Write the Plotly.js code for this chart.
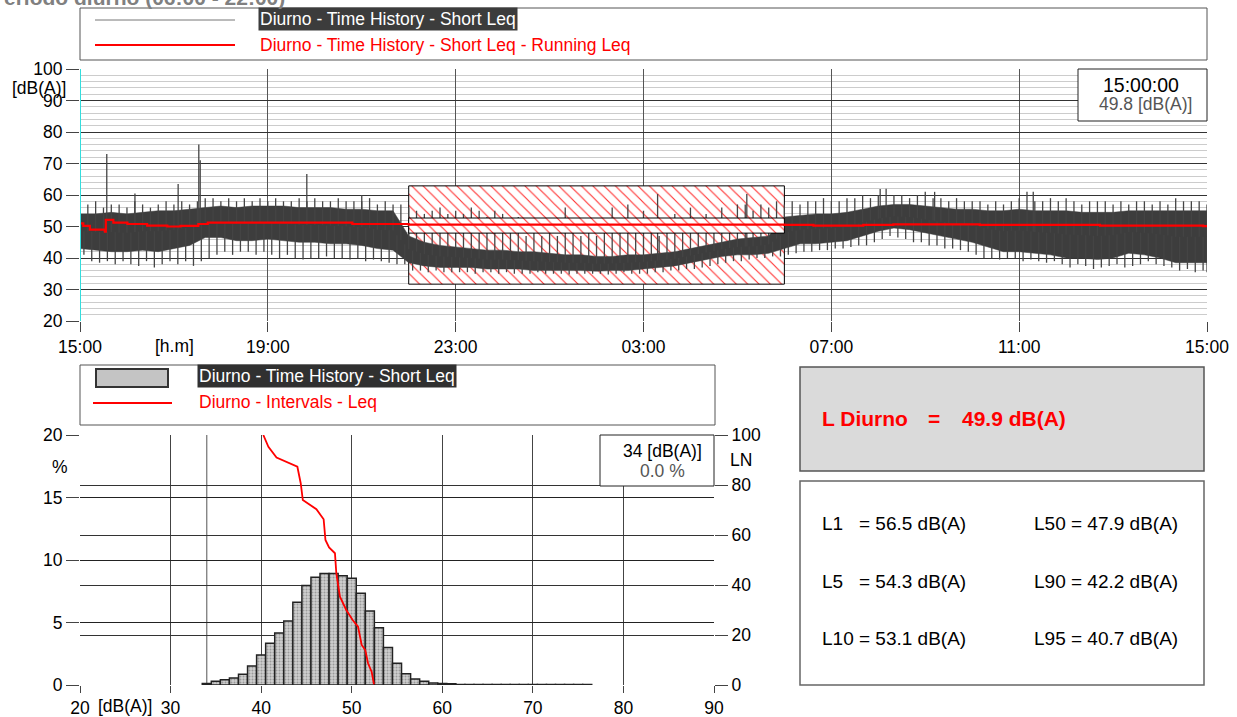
<!DOCTYPE html>
<html><head><meta charset="utf-8">
<script src="https://cdn.plot.ly/plotly-3.0.1.min.js"></script>
<style>html,body{margin:0;padding:0;background:#fff;}#chart{width:1237px;height:717px;}</style>
</head><body><div id="chart"></div>
<script>
// ================= DATA =================
const timeTickVals = [0, 4, 8, 12, 16, 20, 24];            // hours after 15:00
const timeTickText = ['15:00', '19:00', '23:00', '03:00', '07:00', '11:00', '15:00'];

// dense part of the Short Leq time history, every 20 minutes from 15:00 [dB(A)]
const bandStepH = 1 / 3;
const bandTop = [54,54,54.5,54,54.5,55,55,55.5,56,56.5,56,56.5,56.5,56.5,56,56,56,55.5,55.5,55,55,
  47,45,44,43.5,43,42.5,42.5,42,42,41.5,41,41,40.5,40.5,41,41,41.5,42,43,44,45,46,46.5,47,
  53,53.5,54,54,54.5,55.5,56.5,57,57,56.5,56,55.5,55.5,55,55,55.5,55,55,55,54.5,54.5,54.5,55,55,55,55,55,55];
const bandBot = [43,42.5,42,42,42.5,42,43,44,46.5,46.5,45.5,45.5,46,45.5,45,45,44.5,44.5,44,43,42.5,
  38.5,37.5,37,37,37,36.5,36.5,36.5,36,36,36,36,35.8,36,36,36.5,37,37.5,38.5,39.5,40.5,41,41,41.5,
  43,44.5,44.5,45,45.5,47,48.5,49.5,49,48,47,46,45,43.5,42,42,41.5,41,40,40,39.5,40,41.5,41,40,38.5,38.5,38.5];

// extreme Short Leq values, every 10 minutes from 15:00 [dB(A)]
const spikeStepH = 1 / 6;
const spikeHigh = [
  61,57,58,56,57,57,  56,58,57,56,57,58,  57,58,57,58,59,59,  58,59,58,59,58,59,
  58,59,58,58,59,58,  59,58,58,59,58,58,  58,59,57,58,57,57,  56,55,54,55,56,54,
  55,54,56,55,53,55,  54,48,53,47,48,47,  48,47,56,48,47,48,  47,48,56,48,57,48,
  55,48,47,48,54,48,  56,48,54,48,56,48,  57,57,55,57,56,58,  57,58,57,58,58,59,
  58,58,59,59,60,59,  60,62,60,60,59,60,  61,59,59,58,59,58,  58,58,57,58,57,58,
  59,61,58,58,59,58,  59,58,57,58,58,58,  57,58,57,58,58,57,  58,57,59,58,58,58,57];
const spikeLow = [
  41,39,38.5,39,38,39,  38,37.5,39,37,38,39,  38,39,37.5,39,40,41,  42,41,42,42,41,42,
  41,40,41,40,39.5,40,  40,40.5,40,40,39.5,40,  39,39.5,39,38.5,38,38,  36,36,35.5,36,35.5,35.5,
  35.5,35.5,35,35.5,35.5,35,  35.5,35,35,35,35.5,35,  35,35,34.8,35,35,35,  35,34.8,35,35.5,35,35,
  35,35.5,35.5,36,36,36.5,  36.5,37,37.5,38,38.5,39,  39,39.5,40,40,40.5,40.5,  41,41.5,42,42,42.5,42.5,
  43,43,43.5,44,44,45,  46,47,46.5,46,45,45,  44,44,43,43,42.5,42,  41,40,40,39.5,40,40,
  39,39.5,39,38.5,39,38,  37,38,37.5,36.5,37,37.5,  38,37,37.5,38,39,38,  37.5,37,36,36.5,35.5,36,35.5];

// isolated peaks (hours after 15:00, dB(A))
const peakTimes  = [0.57, 1.17, 2.09, 2.53, 2.56, 4.83, 6.0, 12.3, 14.2, 17.04, 18.2, 20.3];
const peakLevels = [73, 60.5, 63.5, 76, 71, 66.7, 60, 60.3, 60.3, 61.9, 61, 61];

// running Leq
const runTimes = [0, 0.07, 0.21, 0.53, 0.55, 0.71, 1.01, 1.43, 1.86, 2.14, 2.52, 2.72, 5.8, 7.0, 15.0, 15.62, 16.68, 17.32, 19.16, 21.72, 23.92, 24];
const runLeq   = [51, 50.2, 49, 48.4, 52.1, 51.2, 50.8, 50.3, 50, 50.2, 50.8, 51.2, 50.8, 50.6, 50.5, 50.3, 50.5, 50.7, 50.5, 50.3, 50.1, 49.9];

// excluded night period 22:00 - 06:00 (hours after 15:00) and its level bands
const nightPeriod = [7, 15];
const nightOuter = [31.7, 62.9];
const nightInner = [47.9, 52.7];

// distribution (1 dB classes)
const histLevels  = [34,35,36,37,38,39,40,41,42,43,44,45,46,47,48,49,50,51,52,53,54,55,56,57,58,59,60,61,62,63,64,65,66,67,68,69,70,71,72,73,74,75,76];
const histPercent = [0.13,0.3,0.43,0.56,0.86,1.53,2.41,3.35,4.16,5.12,6.62,7.96,8.63,8.93,8.93,8.74,8.55,7.35,5.92,4.58,3.0,1.74,0.91,0.48,0.3,0.16,0.13,0.1,
                     0.04,0.04,0.04,0.04,0.04,0.04,0.04,0.04,0.04,0.04,0.04,0.04,0.04,0.04,0.04];
// cumulative LN curve
const cumLevels = [40.24,40.8,41.7,42.8,44.0,44.37,44.6,46.1,46.9,47.1,47.5,48.15,48.3,48.7,49.4,50.1,50.7,51.1,51.5,51.8,52.2,52.46];
const cumLN     = [100,95.3,91,89.3,87.3,80.7,74,70.3,66.3,58,55,52.7,44.7,35.3,30,26,23.3,16,14,8.7,5.3,0.3];

const cursorTime = '15:00:00';
const cursorValue = '49.8 [dB(A)]';
const histCursorLevel = 34;
const histCursorPct = '0.0 %';
const lDiurno = '49.9 dB(A)';
const statsLabels = ['L1', 'L5', 'L10', 'L50', 'L90', 'L95'];
const statsValues = ['56.5', '54.3', '53.1', '47.9', '42.2', '40.7'];

// ================= BUILD =================
const W = 1237, H = 717;
const P = x => x / W;
const Q = y => 1 - y / H;
const FONT = 'Arial, "Liberation Sans", sans-serif';

function interp(arr, step, t) {
  let k = t / step;
  let i = Math.min(Math.floor(k), arr.length - 2);
  let f = k - i;
  return arr[i] * (1 - f) + arr[i + 1] * f;
}
const bandTimes = bandTop.map((_, i) => i * bandStepH);
const mid = t => (interp(bandTop, bandStepH, t) + interp(bandBot, bandStepH, t)) / 2;

// dense band polygon
const bandX = bandTimes.concat(bandTimes.slice().reverse());
const bandY = bandTop.concat(bandBot.slice().reverse());

// spikes
const spX = [], spY = [];
spikeHigh.forEach((v, j) => { const t = j * spikeStepH; spX.push(t, t, null); spY.push(mid(t), v, null); });
spikeLow.forEach((v, j) => { const t = Math.min(j * spikeStepH + spikeStepH / 2, 24); spX.push(t, t, null); spY.push(mid(t), v, null); });
peakTimes.forEach((t, j) => { spX.push(t, t, null); spY.push(mid(t), peakLevels[j], null); });

const rectX = [nightPeriod[0], nightPeriod[1], nightPeriod[1], nightPeriod[0], nightPeriod[0]];
const hatch = {shape: '\\', fgcolor: '#ff3030', bgcolor: 'white', size: 8, solidity: 0.14};

const traces = [
  {type: 'scatter', mode: 'lines', x: rectX, y: [nightOuter[0], nightOuter[0], nightOuter[1], nightOuter[1], nightOuter[0]],
   fill: 'toself', fillcolor: 'white', fillpattern: hatch, line: {color: '#000', width: 1}, xaxis: 'x', yaxis: 'y', hoverinfo: 'skip'},
  {type: 'scatter', mode: 'lines', x: bandX, y: bandY, fill: 'toself', fillcolor: '#3d3d3d',
   line: {color: '#3d3d3d', width: 0.5}, xaxis: 'x', yaxis: 'y'},
  {type: 'scatter', mode: 'lines', x: spX, y: spY, line: {color: '#444', width: 1.3}, connectgaps: false, xaxis: 'x', yaxis: 'y'},
  {type: 'scatter', mode: 'lines', x: rectX, y: [nightInner[0], nightInner[0], nightInner[1], nightInner[1], nightInner[0]],
   fill: 'toself', fillcolor: 'white', fillpattern: hatch, line: {color: '#000', width: 1}, xaxis: 'x', yaxis: 'y'},
  {type: 'scatter', mode: 'lines', x: runTimes, y: runLeq, line: {color: '#ff0000', width: 2.2, shape: 'hv'}, xaxis: 'x', yaxis: 'y'},
  {type: 'bar', x: histLevels, y: histPercent, width: 1, xaxis: 'x2', yaxis: 'y2',
   marker: {color: '#c6c6c6', line: {color: '#222', width: 1.5},
            pattern: {shape: '.', fgcolor: '#9a9a9a', bgcolor: '#cfcfcf', size: 3, solidity: 0.35}}},
  {type: 'scatter', mode: 'lines', x: cumLevels, y: cumLN, line: {color: '#ff0000', width: 1.8}, xaxis: 'x2', yaxis: 'y3'}
];

const tickFont = {family: FONT, size: 17.5, color: '#000'};
const layout = {
  width: W, height: H, margin: {l: 0, r: 0, t: 0, b: 0, pad: 0},
  paper_bgcolor: '#fff', plot_bgcolor: '#fff', showlegend: false, bargap: 0,
  font: {family: FONT, size: 17.5, color: '#000'},
  xaxis: {domain: [P(80), P(1207)], range: [0, 24], tickvals: timeTickVals, ticktext: timeTickText,
          showgrid: true, gridcolor: '#555', gridwidth: 1, zeroline: false, showline: false,
          ticks: 'outside', ticklen: 10, tickcolor: '#444', tickfont: tickFont, anchor: 'y'},
  yaxis: {domain: [Q(321), Q(69)], range: [20, 100], dtick: 10, tick0: 0, showgrid: true, gridcolor: '#333',
          minor: {dtick: 2, showgrid: true, gridcolor: '#cccccc', ticks: ''},
          zeroline: false, showline: false, ticks: 'outside', ticklen: 13, tickcolor: '#444', tickfont: tickFont, anchor: 'x'},
  xaxis2: {domain: [P(80), P(714)], range: [20, 90], dtick: 10, tick0: 0, showgrid: true, gridcolor: '#444',
           zeroline: false, showline: false, ticks: 'outside', ticklen: 7, tickcolor: '#444', tickfont: tickFont, anchor: 'y2'},
  yaxis2: {domain: [Q(685), Q(435)], range: [0, 20], dtick: 5, tick0: 0, showgrid: true, gridcolor: '#222',
           zeroline: false, showline: false, ticks: 'outside', ticklen: 13, tickcolor: '#444', tickfont: tickFont, anchor: 'x2'},
  yaxis3: {overlaying: 'y2', side: 'right', range: [0, 100], dtick: 20, tick0: 0, showgrid: true, gridcolor: '#333',
           zeroline: false, showline: false, ticks: 'outside', ticklen: 13, tickcolor: '#444', tickfont: tickFont, anchor: 'x2'},
  shapes: [], annotations: []
};

function rect(x0, y0, x1, y1, fill, lc, lw, layer) {
  layout.shapes.push({type: 'rect', xref: 'paper', yref: 'paper', x0: P(x0), x1: P(x1), y0: Q(y1), y1: Q(y0),
    fillcolor: fill, line: {color: lc, width: lw}, layer: layer || 'above'});
}
function hline(x0, x1, y, color, w) {
  layout.shapes.push({type: 'line', xref: 'paper', yref: 'paper', x0: P(x0), x1: P(x1), y0: Q(y), y1: Q(y), line: {color: color, width: w}});
}
function ann(text, x, y, o) {
  o = o || {};
  layout.annotations.push(Object.assign({text: text, xref: 'paper', yref: 'paper', x: P(x), y: Q(y),
    xanchor: o.xa || 'left', yanchor: 'middle', showarrow: false,
    font: {family: FONT, size: o.size || 17.5, color: o.color || '#000', weight: o.weight || 'normal'}},
    o.bg ? {bgcolor: o.bg, borderpad: 1} : {}));
}

// cursor line at start of time history
layout.shapes.push({type: 'line', xref: 'x', yref: 'y', x0: 0, x1: 0, y0: 20, y1: 100, line: {color: '#33dddd', width: 2}, layer: 'above'});
// cursor line in distribution
layout.shapes.push({type: 'line', xref: 'x2', yref: 'y2', x0: histCursorLevel, x1: histCursorLevel, y0: 0, y1: 20, line: {color: '#555', width: 1}, layer: 'below'});

// top legend
rect(80, 8, 1207, 60, '#fff', '#555', 1);
hline(95, 235, 20, '#777', 1);
hline(95, 235, 45, '#ff0000', 2);
ann('Diurno - Time History - Short Leq', 258, 19, {color: '#fff', bg: '#3c3c3c'});
ann('Diurno - Time History - Short Leq - Running Leq', 258, 45, {color: '#ff0000'});

// title (cut off at top)
ann('Periodo diurno (06:00 - 22:00)', 287, -3, {xa: 'right', size: 21, weight: 'bold', color: '#808080'});

// top cursor box
rect(1078, 69, 1207, 121, '#fff', '#222', 1);
ann(cursorTime, 1141, 85, {xa: 'center', size: 19.5});
ann(cursorValue, 1145, 104, {xa: 'center', color: '#555'});
ann('[dB(A)]', 39, 88, {xa: 'center'});
ann('[h.m]', 174, 346, {xa: 'center'});

// bottom legend
rect(80, 365, 715, 425, '#fff', '#555', 1);
rect(96, 369, 168, 387, '#c4c4c4', '#333', 2);
hline(93, 172, 403, '#ff0000', 2);
ann('Diurno - Time History - Short Leq', 197, 376, {color: '#fff', bg: '#303030'});
ann('Diurno - Intervals - Leq', 197, 402, {color: '#ff0000'});

// distribution labels
ann('%', 60, 467, {xa: 'center'});
ann('LN', 741, 460, {xa: 'center'});
ann('[dB(A)]', 125, 706, {xa: 'center'});
rect(600, 435, 714, 486, '#fff', '#222', 1);
ann(histCursorLevel + ' [dB(A)]', 662, 451, {xa: 'center'});
ann(histCursorPct, 662, 471, {xa: 'center', color: '#555'});

// L Diurno box
rect(800, 367, 1204, 471, '#dadada', '#555', 1.5);
ann('L Diurno', 820, 418, {size: 21, weight: 'bold', color: '#ff0000'});
ann('=', 926, 418, {size: 21, weight: 'bold', color: '#ff0000'});
ann(lDiurno, 960, 418, {size: 21, weight: 'bold', color: '#ff0000'});

// statistics box
rect(800, 481, 1204, 685, '#fff', '#666', 1.5);
const rowsY = [523, 581, 638];
statsLabels.forEach((lab, i) => {
  const col = i < 3 ? 0 : 1, row = i % 3;
  const x = col === 0 ? 820 : 1032;
  const pad = (col === 0 && lab.length === 2) ? '\u00a0\u00a0\u00a0' : ' ';
  ann(lab + pad + '= ' + statsValues[i] + ' dB(A)', x, rowsY[row], {size: 19});
});

Plotly.newPlot('chart', traces, layout, {staticPlot: true, displayModeBar: false});
</script>
</body></html>
